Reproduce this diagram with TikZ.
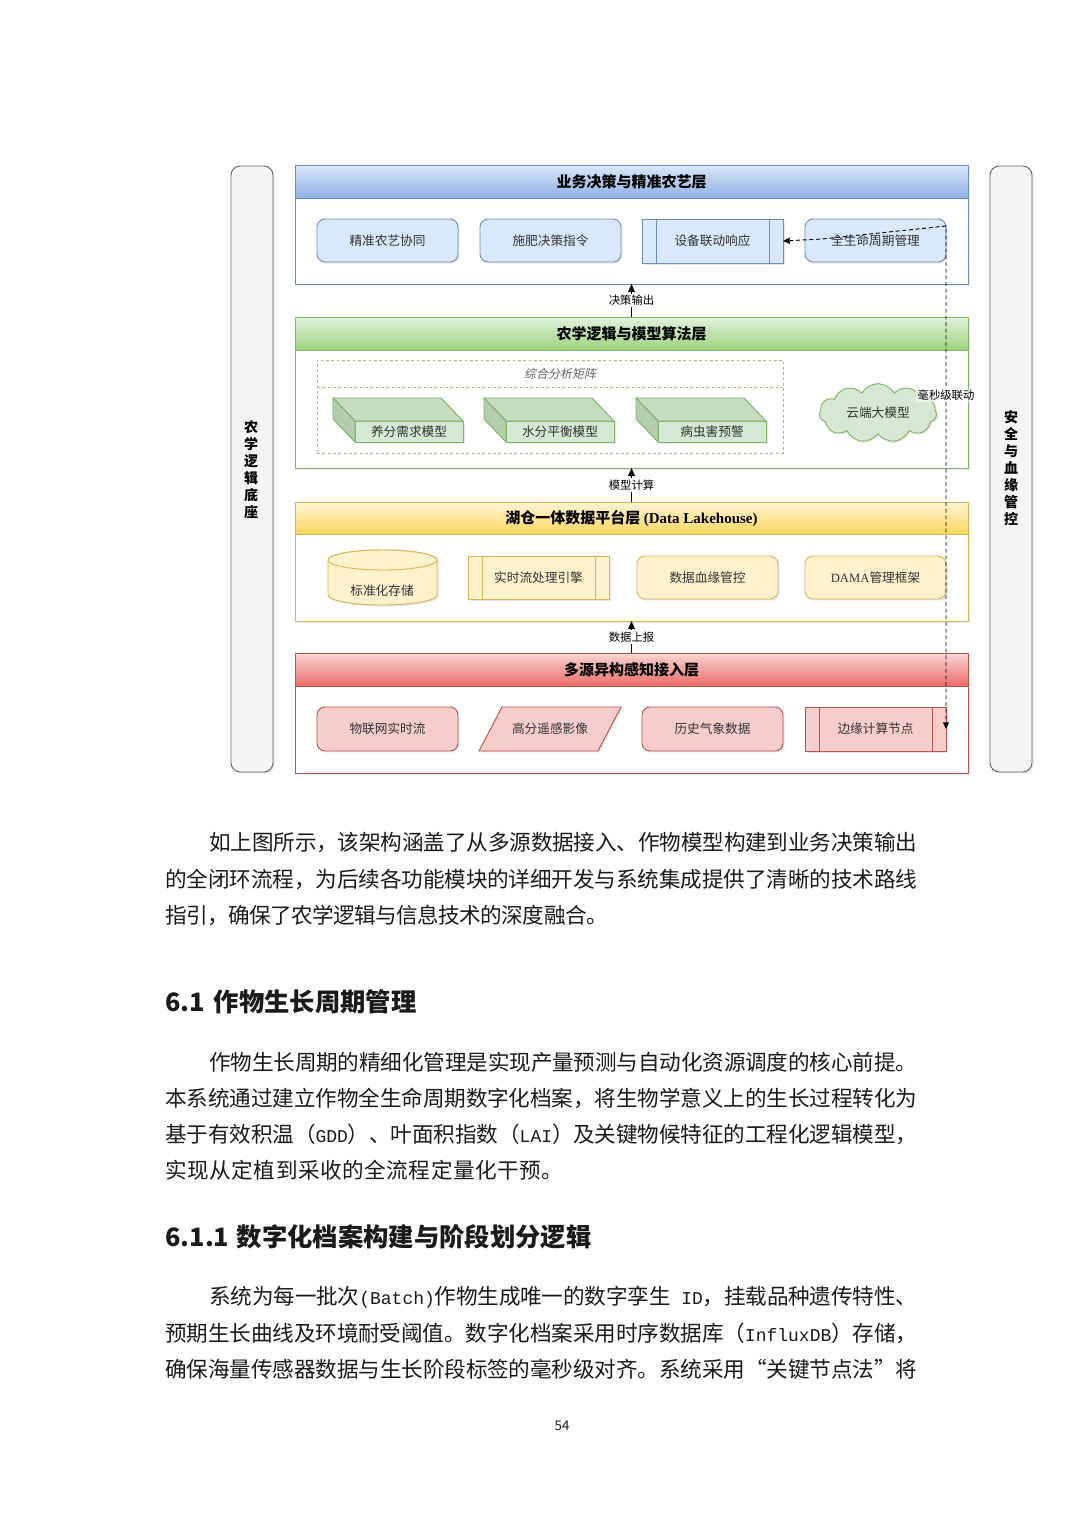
\documentclass[tikz,border=0pt]{standalone}
\usepackage{fontspec}
\setmainfont{Noto Sans CJK SC}
\newfontfamily\tnr{Liberation Serif}
\newfontfamily\mono{Liberation Mono}
\newfontfamily\slcjk[FakeSlant=0.2]{Noto Sans CJK SC}
\usetikzlibrary{shapes.symbols,shadows,arrows.meta}
\definecolor{blF}{HTML}{DAE8FC}\definecolor{blS}{HTML}{6C8EBF}\definecolor{blT}{HTML}{DCE8FA}\definecolor{blH}{HTML}{8DB0E3}
\definecolor{grF}{HTML}{D5E8D4}\definecolor{grS}{HTML}{82B366}\definecolor{grT}{HTML}{E2F2DC}\definecolor{grH}{HTML}{9BD37C}
\definecolor{yeF}{HTML}{FFF2CC}\definecolor{yeS}{HTML}{D6B656}\definecolor{yeT}{HTML}{FFF5D6}\definecolor{yeH}{HTML}{FFD75E}
\definecolor{rdF}{HTML}{F8CECC}\definecolor{rdS}{HTML}{B85450}\definecolor{rdT}{HTML}{F9D6D5}\definecolor{rdH}{HTML}{EA6B66}
\definecolor{grTop}{HTML}{C5DCC1}\definecolor{grSide}{HTML}{B3CDAF}
\definecolor{piF}{HTML}{F5F5F5}\definecolor{piS}{HTML}{666666}
\definecolor{txt}{HTML}{333333}
\definecolor{bodytxt}{HTML}{1A1A1A}
\newcommand\itemfont{\fontsize{9.5pt}{11pt}\selectfont}
\newcommand\titlefont{\fontsize{11.25pt}{13pt}\selectfont\bfseries}
\newcommand\smallfont{\fontsize{8.5pt}{10pt}\selectfont}
\newcommand\bodyfont{\fontsize{16.2pt}{20pt}\selectfont}
\newcommand\headfont{\fontsize{19pt}{22pt}\selectfont\bfseries}
\newcommand\ltn[1]{{\mono\fontsize{13.5pt}{16pt}\selectfont #1}}
\newcommand\gddm{\ltn{GDD}}
\newcommand\laim{\ltn{LAI}}
\newcommand\batchm{\ltn{(Batch)}}
\newcommand\idm{\ltn{\ ID}}
\newcommand\influxm{\ltn{InfluxDB}}
% spread a line of text evenly over a given width
\def\spreadaux#1{\ifx#1\relax\else#1\hskip0pt plus 1fil minus 1fil\expandafter\spreadaux\fi}
\newcommand\jline[2]{\hbox to #1{\spreadaux#2\relax\unskip}}
% box from corner (x1,y1) to (x2,y2) in pixel units
\newcommand\bx[7]{\node[#1, minimum width={(#5-(#3))*0.75pt}, minimum height={(#6-(#4))*0.75pt}] (#2) at ({(#3+#5)/2},{(#4+#6)/2}) {#7};}
\newcommand\mklayer[6]{%
  \bx{boxbase, draw=#2S, fill=white, line width=0.7pt, layershadow}{#1}{295}{#3}{968}{#5}{}
  \bx{boxbase, draw=#2S, top color=#2T, bottom color=#2H, line width=0.7pt}{#1h}{295}{#3}{968}{#4}{}
  \node[ltitle] at (#1h) {#6};}
\newcommand\mkproc[7]{%
  \bx{item=#2}{#1}{#3}{#5}{#4}{#6}{#7}
  \draw[draw=#2S, line width=0.7pt] ([xshift=10.5pt]#1.north west) -- ([xshift=10.5pt]#1.south west)
     ([xshift=-10.5pt]#1.north east) -- ([xshift=-10.5pt]#1.south east);}
\newcommand\mkcube[3]{%
  \bx{item=gr}{#1}{#2}{421}{#2+108}{442}{#3}
  \filldraw[fill=grTop, draw=grS, line width=0.7pt] ([xshift=-16.5pt,yshift=17.25pt]#1.north west) -- ([xshift=-16.5pt,yshift=17.25pt]#1.north east) -- (#1.north east) -- (#1.north west) -- cycle;
  \filldraw[fill=grSide, draw=grS, line width=0.7pt] ([xshift=-16.5pt,yshift=17.25pt]#1.north west) -- (#1.north west) -- (#1.south west) -- ([xshift=-16.5pt,yshift=17.25pt]#1.south west) -- cycle;}
\begin{document}
\begin{tikzpicture}[x=0.75pt, y=-0.75pt,
  boxbase/.style={inner sep=0pt, outer sep=0pt},
  layershadow/.style={drop shadow={opacity=0.15, shadow xshift=1.5pt, shadow yshift=-1.5pt}},
  itemshadow/.style={drop shadow={opacity=0.18, shadow xshift=1.2pt, shadow yshift=-1.2pt}},
  item/.style={boxbase, fill=#1F, draw=#1S, line width=0.7pt, font=\itemfont, text=txt, itemshadow},
  rnditem/.style={item=#1, rounded corners=6pt},
  ltitle/.style={font=\titlefont, text=black},
  flab/.style={fill=white, inner sep=1pt, font=\smallfont, text=black},
  flow/.style={line width=0.9pt, -{Triangle[length=6pt,width=5pt]}},
  link/.style={densely dashed, line width=0.7pt, {Triangle[length=5pt,width=4.5pt]}-{Triangle[length=5pt,width=4.5pt]}},
  pillar/.style={boxbase, fill=piF, draw=piS, rounded corners=7pt, line width=0.7pt, itemshadow},
  piltext/.style={font=\fontsize{10.5pt}{12.75pt}\selectfont\bfseries, align=center, text=black},
  bodyt/.style={anchor=west, inner sep=0pt, font=\bodyfont, text=bodytxt},
  headt/.style={anchor=west, inner sep=0pt, font=\headfont, text=bodytxt}]
\useasboundingbox (0,0) rectangle (1080,1528);
\fill[white] (0,0) rectangle (1080,1528);

% pillars
\bx{pillar}{pl}{231}{166}{273}{772}{}
\node[piltext] at (251,470) {农\\学\\逻\\辑\\底\\座};
\bx{pillar}{pr}{990}{166}{1032}{772}{}
\node[piltext] at (1011,468) {安\\全\\与\\血\\缘\\管\\控};

% layer 1
\mklayer{bl}{bl}{165}{198}{284}{业务决策与精准农艺层}
\bx{rnditem=bl}{b1}{317}{219}{458}{262}{精准农艺协同}
\bx{rnditem=bl}{b2}{480}{219}{621}{262}{施肥决策指令}
\mkproc{b3}{bl}{642}{783}{219}{263}{设备联动响应}
\bx{rnditem=bl}{b4}{805}{219}{946}{262}{全生命周期管理}

% layer 2
\mklayer{gr}{gr}{317}{350}{468}{农学逻辑与模型算法层}
\bx{boxbase, draw=grS!85, dash pattern=on 2pt off 2pt, line width=0.5pt}{mat}{317}{360}{783}{453}{}
\draw[grS!85, dash pattern=on 2pt off 2pt, line width=0.5pt] (317,387) -- (783,387);
\node[font=\slcjk\fontsize{9pt}{10pt}\selectfont, text=black!60] at (560,374) {综合分析矩阵};
\mkcube{g1}{355}{养分需求模型}
\mkcube{g2}{506}{水分平衡模型}
\mkcube{g3}{658}{病虫害预警}
\node[cloud, cloud puffs=11, cloud puff arc=120, cloud ignores aspect, minimum width=88pt, minimum height=44pt, fill=grF, draw=grS, line width=0.7pt, itemshadow, font=\itemfont, text=txt] (cloud) at (878,413) {云端大模型};

% layer 3
\mklayer{ye}{ye}{502}{534}{621}{湖仓一体数据平台层 {\tnr (Data Lakehouse)}}
\filldraw[fill=yeF, draw=yeS, line width=0.7pt, itemshadow] (328,560) -- (328,595) arc[start angle=180, end angle=360, x radius=40.875pt, y radius=7.5pt] -- (437,560) arc[start angle=0, end angle=180, x radius=40.875pt, y radius=7.5pt] -- cycle;
\draw[fill=yeF, draw=yeS, line width=0.7pt] (382.5,560) ellipse [x radius=40.875pt, y radius=7.5pt];
\bx{boxbase}{y1}{328}{550}{437}{605}{}
\node[font=\itemfont, text=txt] at (382,591) {标准化存储};
\mkproc{y2}{ye}{468}{609}{556}{599}{实时流处理引擎}
\bx{rnditem=ye}{y3}{637}{556}{778}{599}{数据血缘管控}
\bx{rnditem=ye}{y4}{805}{556}{946}{599}{{\tnr DAMA}管理框架}

% layer 4
\mklayer{rd}{rd}{653}{686}{773}{多源异构感知接入层}
\bx{rnditem=rd}{r1}{317}{707}{458}{751}{物联网实时流}
\filldraw[fill=rdF, draw=rdS, line width=0.7pt, itemshadow] (502,707) -- (621,707) -- (598,751) -- (479,751) -- cycle;
\bx{boxbase, font=\itemfont, text=txt}{r2}{479}{707}{621}{751}{高分遥感影像}
\bx{rnditem=rd}{r3}{642}{707}{783}{751}{历史气象数据}
\mkproc{r4}{rd}{805}{946}{707}{751}{边缘计算节点}

% flows
\draw[flow] (gr.north) -- node[flab]{决策输出} (bl.south);
\draw[flow] (ye.north) -- node[flab]{模型计算} (gr.south);
\draw[flow] (rd.north) -- node[flab]{数据上报} (ye.south);

% dashed link
\coordinate (c1) at (822,239);
\coordinate (c2) at (946,226);
\draw[link] (b3.east) -- (c1) -- (c2) -- node[pos=0.336, fill=white, fill opacity=0.6, text opacity=1, inner sep=1pt, font=\smallfont]{毫秒级联动} (r4.east);

% body text
\node[bodyt] (p1a) at (209,843) {\jline{531pt}{如上图所示，该架构涵盖了从多源数据接入、作物模型构建到业务决策输出}};
\node[bodyt] (p1b) at (165,879) {\jline{564pt}{的全闭环流程，为后续各功能模块的详细开发与系统集成提供了清晰的技术路线}};
\node[bodyt] (p1c) at (165,915) {\jline{331.8pt}{指引，确保了农学逻辑与信息技术的深度融合。}};

\node[headt] (h1) at (165,1002) {6.1\hspace{0.35em}作物生长周期管理};

\node[bodyt] (p2a) at (209,1062) {\jline{531pt}{作物生长周期的精细化管理是实现产量预测与自动化资源调度的核心前提。}};
\node[bodyt] (p2b) at (165,1098) {\jline{564pt}{本系统通过建立作物全生命周期数字化档案，将生物学意义上的生长过程转化为}};
\node[bodyt] (p2c) at (165,1134) {\jline{564pt}{基于有效积温（\gddm）、叶面积指数（\laim）及关键物候特征的工程化逻辑模型，}};
\node[bodyt] (p2d) at (165,1170) {\jline{298.6pt}{实现从定植到采收的全流程定量化干预。}};

\node[headt] (h2) at (165,1237) {6.1.1\hspace{0.3em}数字化档案构建与阶段划分逻辑};

\node[bodyt] (p3a) at (209,1297) {\jline{531pt}{系统为每一批次\batchm 作物生成唯一的数字孪生\idm，挂载品种遗传特性、}};
\node[bodyt] (p3b) at (165,1333) {\jline{564pt}{预期生长曲线及环境耐受阈值。数字化档案采用时序数据库（\influxm）存储，}};
\node[bodyt] (p3c) at (165,1369) {\jline{564pt}{确保海量传感器数据与生长阶段标签的毫秒级对齐。系统采用“关键节点法”将}};

\node[font=\fontsize{10pt}{12pt}\selectfont, text=bodytxt] (pg) at (562,1426) {54};
\end{tikzpicture}
\end{document}
